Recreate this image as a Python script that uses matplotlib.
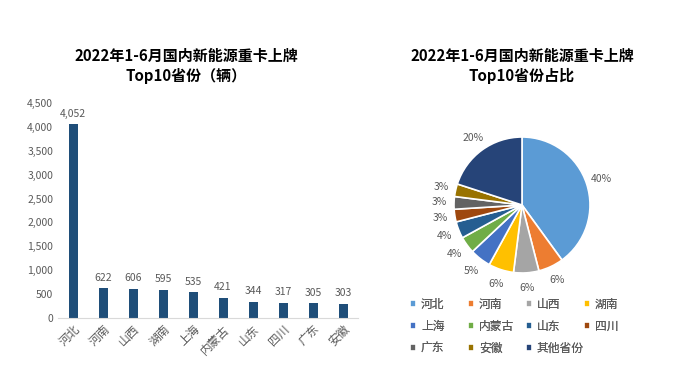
import matplotlib
matplotlib.use("Agg")
import matplotlib.pyplot as plt

plt.rcParams['font.family'] = ['Noto Sans CJK SC', 'DejaVu Sans']

# datos
provincias = ['河北', '河南', '山西', '湖南', '上海', '内蒙古', '山东', '四川', '广东', '安徽']
vehiculos = [4052, 622, 606, 595, 535, 421, 344, 317, 305, 303]
pie_labels = provincias + ['其他省份']
pie_shares = [40, 6, 6, 6, 5, 4, 4, 3, 3, 3, 20]
pie_colors = ['#5B9BD5', '#ED7D31', '#A5A5A5', '#FFC000', '#4472C4', '#70AD47',
              '#255E91', '#9E480E', '#636363', '#997300', '#264478']

gris = '#595959'
fig = plt.figure(figsize=(6.73, 3.88), dpi=100)

# barras
ax = fig.add_axes([58/673, 1-318/388, 300/673, 215/388])
x = range(len(provincias))
ax.bar(x, vehiculos, width=0.3, color='#1F4E79')
for i, v in zip(x, vehiculos):
    ax.text(i, v + 120, f'{v:,}', ha='center', va='bottom', fontsize=7.5, color=gris)
ax.set_xlim(-0.5, 9.5)
ax.set_ylim(0, 4500)
ax.set_yticks(range(0, 4501, 500))
ax.set_yticklabels([f'{t:,}' for t in range(0, 4501, 500)], fontsize=7.5, color=gris)
ax.set_xticks(list(x))
ax.set_xticklabels(provincias, rotation=45, ha='right', rotation_mode='anchor',
                   fontsize=8.5, color=gris)
for s in ['top', 'right', 'left']:
    ax.spines[s].set_visible(False)
ax.spines['bottom'].set_color('#D9D9D9')
ax.tick_params(length=0)
fig.text(186/673, 1-66/388, '2022年1-6月国内新能源重卡上牌\nTop10省份（辆）', ha='center', va='center',
         fontsize=10.8, fontweight='bold', linespacing=1.3)

# pastel
ax2 = fig.add_axes([454/673, 1-273/388, 136/673, 136/388])
wedges, _, autotexts = ax2.pie(pie_shares, colors=pie_colors, startangle=90, counterclock=False,
                               autopct='%d%%', pctdistance=1.22,
                               wedgeprops=dict(edgecolor='white', linewidth=1.2))
for t in autotexts:
    t.set_fontsize(7.5)
    t.set_color(gris)
ax2.set_xlim(-1, 1)
ax2.set_ylim(-1, 1)
ax2.set_aspect('equal')
fig.text(522/673, 1-66/388, '2022年1-6月国内新能源重卡上牌\nTop10省份占比', ha='center', va='center',
         fontsize=10.8, fontweight='bold', linespacing=1.3)

# leyenda: una columna por cada leyenda, en filas de 4
for col in range(4):
    idx = list(range(col, len(pie_labels), 4))
    leg = fig.legend([wedges[i] for i in idx], [pie_labels[i] for i in idx], loc='upper left',
                     bbox_to_anchor=((405 + 58 * col)/673, 1-293/388), frameon=False,
                     fontsize=8.5, labelcolor=gris, handlelength=0.55, handleheight=0.55,
                     handletextpad=0.4, labelspacing=0.75, borderaxespad=0)
    fig.add_artist(leg)

plt.savefig('out.png', dpi=100)
